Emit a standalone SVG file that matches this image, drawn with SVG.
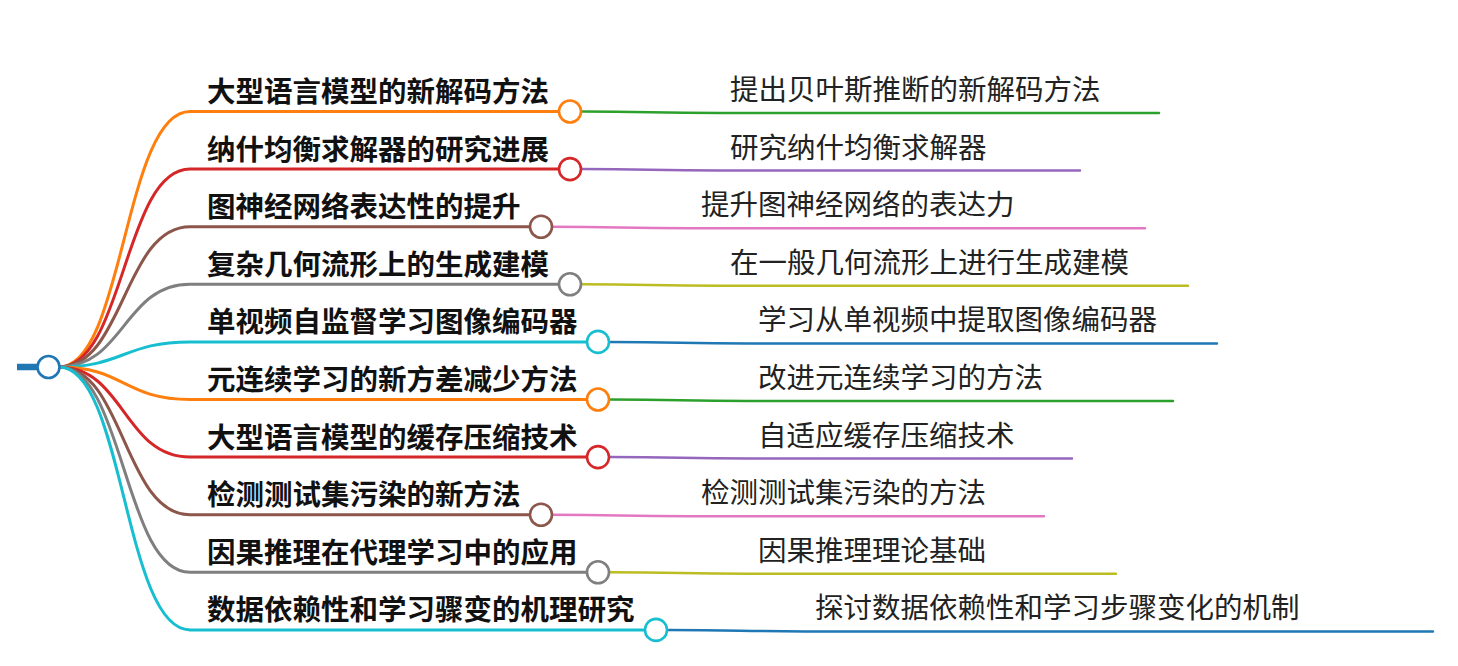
<svg xmlns="http://www.w3.org/2000/svg" width="1458" height="666" viewBox="0 0 1458 666">
<style>
text{font-family:"Noto Sans CJK SC","Noto Sans",sans-serif;font-size:28.5px}
.p{font-weight:bold;fill:#111}
.c{font-weight:normal;fill:#222}
.b{fill:none;stroke-width:3;stroke-linecap:round}
.l{fill:none;stroke-width:2.5;stroke-linecap:round}
.dot{fill:#fff;stroke-width:2.6}
</style>
<rect width="1458" height="666" fill="#fff"/>
<g id="connectors">
<line x1="17" y1="367" x2="38" y2="367" stroke="#1f77b4" stroke-width="6.5"/>
<path class="b" stroke="#ff7f0e" d="M59,367 C124,367 124,111.5 190,111.5 L559,111.5"/>
<path class="b" stroke="#d62728" d="M59,367 C124,367 124,169.1 190,169.1 L559,169.1"/>
<path class="b" stroke="#8c564b" d="M59,367 C124,367 124,226.7 190,226.7 L530,226.7"/>
<path class="b" stroke="#7f7f7f" d="M59,367 C124,367 124,284.3 190,284.3 L559,284.3"/>
<path class="b" stroke="#17becf" d="M59,367 C124,367 124,341.9 190,341.9 L587,341.9"/>
<path class="b" stroke="#ff7f0e" d="M59,367 C124,367 124,399.5 190,399.5 L587,399.5"/>
<path class="b" stroke="#d62728" d="M59,367 C124,367 124,457.1 190,457.1 L587,457.1"/>
<path class="b" stroke="#8c564b" d="M59,367 C124,367 124,514.7 190,514.7 L530,514.7"/>
<path class="b" stroke="#7f7f7f" d="M59,367 C124,367 124,572.3 190,572.3 L587,572.3"/>
<path class="b" stroke="#17becf" d="M59,367 C124,367 124,629.9 190,629.9 L645,629.9"/>
<path class="l" stroke="#2ca02c" d="M581,111.5 C650,111.5 650,113 720,113 L1159,113"/>
<path class="l" stroke="#9467bd" d="M581,169.1 C650,169.1 650,170.6 720,170.6 L1080,170.6"/>
<path class="l" stroke="#e377c2" d="M552,226.7 C620,226.7 620,228.2 690,228.2 L1145,228.2"/>
<path class="l" stroke="#bcbd22" d="M581,284.3 C650,284.3 650,285.8 720,285.8 L1188,285.8"/>
<path class="l" stroke="#1f77b4" d="M609,341.9 C680,341.9 680,343.4 748,343.4 L1217,343.4"/>
<path class="l" stroke="#2ca02c" d="M609,399.5 C680,399.5 680,401 748,401 L1173,401"/>
<path class="l" stroke="#9467bd" d="M609,457.1 C680,457.1 680,458.6 748,458.6 L1072,458.6"/>
<path class="l" stroke="#e377c2" d="M552,514.7 C620,514.7 620,516.2 690,516.2 L1044,516.2"/>
<path class="l" stroke="#bcbd22" d="M609,572.3 C680,572.3 680,573.8 748,573.8 L1116,573.8"/>
<path class="l" stroke="#1f77b4" d="M667,629.9 C740,629.9 740,631.4 805,631.4 L1433,631.4"/>
</g>
<g id="root"><circle class="dot" cx="48.5" cy="367" r="11" stroke="#1f77b4" stroke-width="3"/></g>
<g id="n1"><text class="p" x="207" y="102">大型语言模型的新解码方法</text><circle class="dot" cx="570" cy="111.5" r="11" stroke="#ff7f0e"/></g>
<g id="n1c"><text class="c" x="730" y="100">提出贝叶斯推断的新解码方法</text></g>
<g id="n2"><text class="p" x="207" y="159.6">纳什均衡求解器的研究进展</text><circle class="dot" cx="570" cy="169.1" r="11" stroke="#d62728"/></g>
<g id="n2c"><text class="c" x="730" y="157.6">研究纳什均衡求解器</text></g>
<g id="n3"><text class="p" x="207" y="217.2">图神经网络表达性的提升</text><circle class="dot" cx="541" cy="226.7" r="11" stroke="#8c564b"/></g>
<g id="n3c"><text class="c" x="701" y="215.2">提升图神经网络的表达力</text></g>
<g id="n4"><text class="p" x="207" y="274.8">复杂几何流形上的生成建模</text><circle class="dot" cx="570" cy="284.3" r="11" stroke="#7f7f7f"/></g>
<g id="n4c"><text class="c" x="730" y="272.8">在一般几何流形上进行生成建模</text></g>
<g id="n5"><text class="p" x="207" y="332.4">单视频自监督学习图像编码器</text><circle class="dot" cx="598" cy="341.9" r="11" stroke="#17becf"/></g>
<g id="n5c"><text class="c" x="758" y="330.4">学习从单视频中提取图像编码器</text></g>
<g id="n6"><text class="p" x="207" y="390">元连续学习的新方差减少方法</text><circle class="dot" cx="598" cy="399.5" r="11" stroke="#ff7f0e"/></g>
<g id="n6c"><text class="c" x="758" y="388">改进元连续学习的方法</text></g>
<g id="n7"><text class="p" x="207" y="447.6">大型语言模型的缓存压缩技术</text><circle class="dot" cx="598" cy="457.1" r="11" stroke="#d62728"/></g>
<g id="n7c"><text class="c" x="758" y="445.6">自适应缓存压缩技术</text></g>
<g id="n8"><text class="p" x="207" y="505.2">检测测试集污染的新方法</text><circle class="dot" cx="541" cy="514.7" r="11" stroke="#8c564b"/></g>
<g id="n8c"><text class="c" x="701" y="503.2">检测测试集污染的方法</text></g>
<g id="n9"><text class="p" x="207" y="562.8">因果推理在代理学习中的应用</text><circle class="dot" cx="598" cy="572.3" r="11" stroke="#7f7f7f"/></g>
<g id="n9c"><text class="c" x="758" y="560.8">因果推理理论基础</text></g>
<g id="n10"><text class="p" x="207" y="620.4">数据依赖性和学习骤变的机理研究</text><circle class="dot" cx="656" cy="629.9" r="11" stroke="#17becf"/></g>
<g id="n10c"><text class="c" x="815" y="618.4">探讨数据依赖性和学习步骤变化的机制</text></g>
</svg>
